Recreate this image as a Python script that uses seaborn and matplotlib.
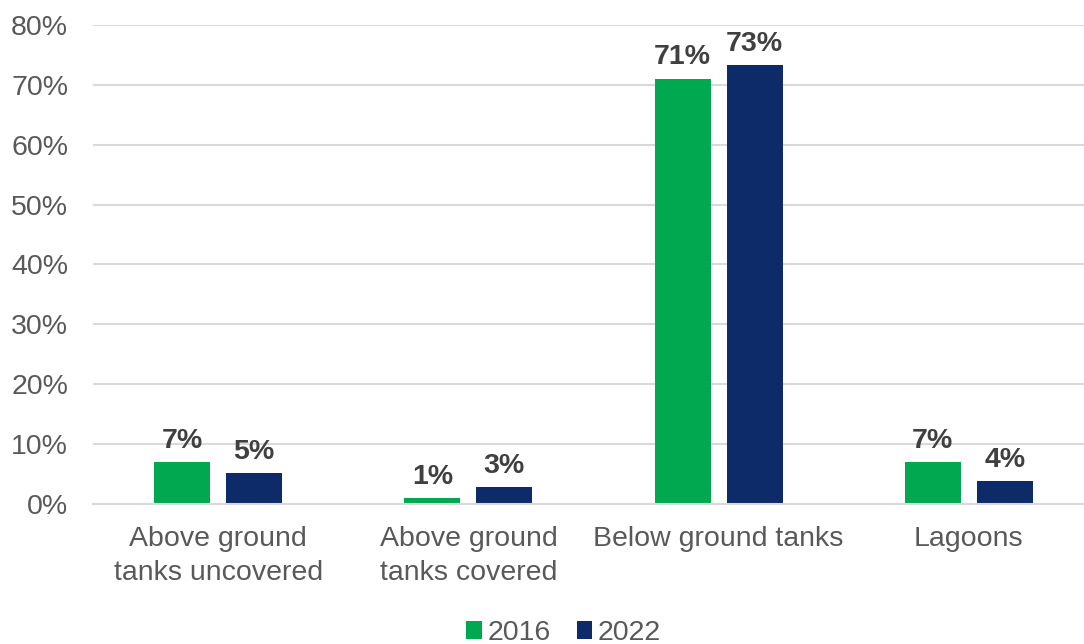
import matplotlib
matplotlib.use("Agg")
import matplotlib.pyplot as plt
import seaborn as sns
import pandas as pd
from matplotlib.ticker import FuncFormatter

categories = ["Above ground\ntanks uncovered", "Above ground\ntanks covered", "Below ground tanks", "Lagoons"]
years = ["2016", "2022"]
values_2016 = [7.0, 1.0, 71.0, 7.0]
values_2022 = [5.2, 2.8, 73.3, 3.8]

df = pd.DataFrame({
    "category": categories * 2,
    "year": [years[0]] * 4 + [years[1]] * 4,
    "value": values_2016 + values_2022,
})

sns.set_theme(style="white")
plt.rcParams["font.family"] = ["Liberation Sans", "DejaVu Sans"]

fig = plt.figure(figsize=(10.84, 6.44), dpi=100)
ax = fig.add_axes([0.0858, 0.2174, 0.9142, 0.7439])

palette = {"2016": "#00A94F", "2022": "#0D2B69"}
sns.barplot(data=df, x="category", y="value", hue="year", palette=palette,
            width=0.576, gap=0.222, ax=ax, saturation=1, edgecolor="none")

ax.set_ylim(0, 80)
ax.set_xlim(-0.5, 3.46)
ax.set_yticks(range(0, 81, 10))
ax.yaxis.set_major_formatter(FuncFormatter(lambda v, p: f"{v:.0f}%"))
ax.grid(axis="y", color="#D9D9D9", linewidth=1.5)
ax.set_axisbelow(True)
for s in ["top", "right", "left"]:
    ax.spines[s].set_visible(False)
ax.spines["bottom"].set_color("#D9D9D9")
ax.spines["bottom"].set_linewidth(1.5)
ax.tick_params(axis="both", length=0, labelsize=20.5, colors="#595959")
ax.tick_params(axis="y", pad=18)
ax.tick_params(axis="x", pad=16)
for lbl in ax.get_xticklabels():
    lbl.set_linespacing(1.38)
ax.set_xlabel("")
ax.set_ylabel("")

for cont in ax.containers:
    ax.bar_label(cont, labels=[f"{v:.0f}%" for v in cont.datavalues], padding=6,
                 fontsize=20.5, fontweight="bold", color="#404040")

ax.legend(loc="lower center", bbox_to_anchor=(0.475, -0.35), ncol=2, frameon=False,
          fontsize=20.5, handlelength=0.55, handleheight=0.55, handletextpad=0.2,
          columnspacing=0.9, labelcolor="#595959")

fig.savefig("out.png", dpi=100)
